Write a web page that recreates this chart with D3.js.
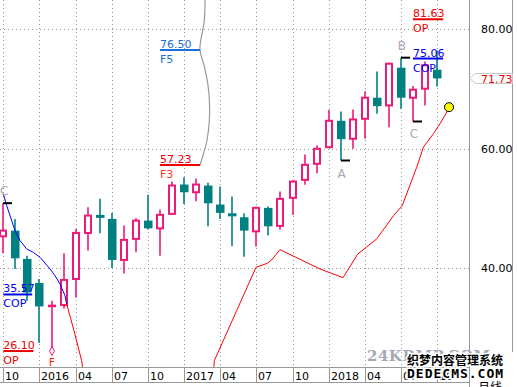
<!DOCTYPE html>
<html>
<head>
<meta charset="utf-8">
<script src="https://cdn.jsdelivr.net/npm/d3@7"></script>
<style>
  body { margin: 0; background: #fff; }
  svg { display: block; }
</style>
</head>
<body>
<svg id="chart" width="517" height="387"></svg>
<script>
// monthly bars, Oct 2015 .. Oct 2018 (index 0 = 2015-10)
const opens  = [45.30, 46.26, 41.52, 37.49, 33.60, 33.81, 38.16, 45.87, 48.89, 48.22, 41.35, 44.87, 47.93,
                46.64, 49.06, 53.97, 52.68, 53.80, 50.62, 49.16, 48.49, 46.14, 50.06, 47.05, 51.74, 54.75,
                57.44, 60.22, 64.64, 61.63, 64.98, 68.50, 67.21, 73.52, 68.50, 70.01, 73.19];
const highs  = [50.85, 48.22, 42.07, 38.16, 34.53, 42.45, 46.54, 50.16, 51.57, 49.22, 47.10, 48.32, 52.24,
                49.78, 54.47, 55.19, 54.92, 54.25, 53.63, 51.96, 49.16, 50.28, 50.28, 52.79, 54.64, 58.99,
                60.50, 66.49, 66.20, 66.54, 69.60, 72.90, 74.36, 75.20, 70.44, 74.58, 76.42];
const lows   = [42.45, 39.84, 34.53, 27.44, 26.10, 33.24, 35.08, 42.91, 45.81, 40.01, 39.10, 42.62, 46.43,
                42.07, 48.94, 50.73, 51.17, 46.98, 48.22, 43.63, 41.90, 43.58, 45.42, 46.43, 48.89, 53.92,
                55.86, 60.22, 57.99, 59.95, 61.63, 65.82, 63.57, 66.65, 64.52, 67.21, 70.39];
const closes = [46.26, 41.62, 35.90, 33.57, 33.70, 38.00, 45.87, 48.77, 48.39, 41.35, 44.70, 47.93, 46.64,
                48.89, 53.80, 52.68, 53.97, 50.83, 49.22, 48.65, 46.26, 50.06, 46.98, 51.57, 54.47, 57.27,
                59.95, 64.64, 61.56, 64.86, 68.50, 67.09, 74.19, 68.50, 69.84, 73.91, 71.73];

const xTickIdx    = [0, 3, 6, 9, 12, 15, 18, 21, 24, 27, 30, 33, 36];
const xTickLabels = ['10', '2016', '04', '07', '10', '2017', '04', '07', '10', '2018', '04', '07', '10'];
const yTicks = [40, 60, 80];
const lastPrice = 71.73;

// projection lines: [month index, price]
const copLine = [[0, 52.4], [0.28, 50.45], [0.97, 46.26], [1.39, 44.58], [1.94, 43.19], [2.49, 42.62],
                 [3.05, 41.78], [3.88, 39.84], [4.29, 38.72], [4.71, 37.33], [5.12, 35.37], [5.26, 33.98]];
const opLineLeft = [[5.26, 33.98], [5.87, 29.5], [6.5, 24.47], [6.65, 22.5]];
const opLineRight = [[17.45, 22.5], [17.51, 24.47], [20.97, 40.11], [21.9, 40.78], [22.27, 41.35],
                     [22.96, 43.07], [26.28, 39.84], [28.19, 38.38], [29.4, 42.3], [31.0, 44.9],
                     [32.4, 48.8], [33.1, 50.4], [33.89, 54.64], [34.31, 56.87], [34.86, 60.22],
                     [35.69, 62.46], [36.24, 64.14], [36.8, 66.08], [36.99, 66.92]];
const arcLine = [[16.74, 86], [16.68, 81.45], [16.32, 76.6], [16.66, 73.91], [16.99, 70.56], [17.1, 68.04],
                 [17.1, 64.69], [16.9, 61.34], [16.57, 58.83], [16.32, 57.23]];

// underlined level labels
const levelText  = ['76.50', '57.23', '81.63', '75.06', '35.57', '26.10'];
const levelValue = [76.50, 57.23, 81.63, 75.06, 35.57, 26.10];
const levelSub   = ['F5', 'F3', 'OP', 'COP', 'COP', 'OP'];
const levelFrom  = [13.0, 13.0, 34.0, 34.0, 0.0, 0.0];
const levelTo    = [16.32, 16.32, 36.5, 36.5, 2.4, 2.5];
const levelColor = ['#1c6fd8', '#ee0000', '#ee0000', '#0000ee', '#0000ee', '#ee0000'];

// swing markers
const markIdx   = [0, 28, 33, 34];
const markValue = [50.85, 57.99, 75.20, 64.52];
const markText  = ['C', 'A', 'B', 'C'];
const markAbove = [true, false, true, false];

const teal = '#008080', pink = '#ee1a78';
const plotW = 469, plotH = 367;

const svg = d3.select('#chart');
const x = d3.scaleLinear().domain([0, 36]).range([3.3, 437.1]);
const y = d3.scaleLinear().domain([40, 80]).range([268, 29]);

svg.append('defs').append('clipPath').attr('id', 'plot')
  .append('rect').attr('width', plotW).attr('height', plotH);

// grid
const grid = svg.append('g').attr('stroke', '#999').attr('stroke-dasharray', '1,3');
grid.selectAll('line.v').data(xTickIdx).enter().append('line')
  .attr('x1', d => Math.round(x(d)) + 0.5).attr('x2', d => Math.round(x(d)) + 0.5)
  .attr('y1', 0).attr('y2', plotH);
grid.selectAll('line.h').data(yTicks).enter().append('line')
  .attr('x1', 0).attr('x2', plotW)
  .attr('y1', d => Math.round(y(d)) + 0.5).attr('y2', d => Math.round(y(d)) + 0.5);

const plot = svg.append('g').attr('clip-path', 'url(#plot)');

// candles
const idx = d3.range(opens.length);
const bars = plot.append('g').selectAll('g').data(idx).enter().append('g');
bars.append('line')
  .attr('x1', i => Math.round(x(i))).attr('x2', i => Math.round(x(i)))
  .attr('y1', i => y(highs[i])).attr('y2', i => y(lows[i]))
  .attr('stroke', i => closes[i] >= opens[i] ? pink : teal)
  .attr('stroke-width', 1.6);
bars.filter(i => closes[i] < opens[i]).append('rect')
  .attr('x', i => Math.round(x(i)) - 4).attr('width', 8.5)
  .attr('y', i => y(opens[i])).attr('height', i => Math.max(1, y(closes[i]) - y(opens[i])))
  .attr('fill', teal);
bars.filter(i => closes[i] >= opens[i]).append('rect')
  .attr('x', i => Math.round(x(i)) - 3).attr('width', 6)
  .attr('y', i => y(closes[i])).attr('height', i => Math.max(0.5, y(opens[i]) - y(closes[i])))
  .attr('fill', '#fff').attr('stroke', pink).attr('stroke-width', 2);

// diamond + F at the 2016 low
plot.append('path')
  .attr('d', d3.symbol(d3.symbolDiamond, 22)())
  .attr('transform', `translate(${Math.round(x(4))},${y(lows[4])})`)
  .attr('fill', '#fff').attr('stroke', pink).attr('stroke-width', 1);
svg.append('text').attr('x', Math.round(x(4))).attr('y', y(lows[4]) + 15)
  .attr('text-anchor', 'middle').attr('font-family', 'DejaVu Sans').attr('font-size', 11)
  .attr('fill', '#ff2a1a').text('F');

// lines
const line = d3.line().x(d => x(d[0])).y(d => y(d[1]));
plot.append('path').attr('d', line(copLine)).attr('fill', 'none').attr('stroke', '#0000ff').attr('stroke-width', 1);
plot.append('path').attr('d', line(opLineLeft)).attr('fill', 'none').attr('stroke', '#ff0000').attr('stroke-width', 1);
plot.append('path').attr('d', line(opLineRight)).attr('fill', 'none').attr('stroke', '#ff0000').attr('stroke-width', 1);
plot.append('path').attr('d', line.curve(d3.curveCatmullRom)(arcLine))
  .attr('fill', 'none').attr('stroke', '#999').attr('stroke-width', 1.2);

const endPt = opLineRight[opLineRight.length - 1];
plot.append('circle').attr('cx', x(endPt[0])).attr('cy', y(endPt[1])).attr('r', 4.5)
  .attr('fill', '#ffff00').attr('stroke', '#000').attr('stroke-width', 1);

// markers
const marks = plot.append('g').selectAll('g').data(markIdx).enter().append('g');
marks.append('line')
  .attr('x1', (d, k) => Math.round(x(d))).attr('x2', (d, k) => Math.round(x(d)) + 9)
  .attr('y1', (d, k) => y(markValue[k])).attr('y2', (d, k) => y(markValue[k]))
  .attr('stroke', '#000').attr('stroke-width', 2);
marks.append('text')
  .attr('x', (d, k) => Math.max(3.5, x(d) + 1))
  .attr('y', (d, k) => y(markValue[k]) + (markAbove[k] ? -8 : 17))
  .attr('text-anchor', 'middle').attr('font-family', 'DejaVu Sans').attr('font-size', 12)
  .attr('fill', '#a8a8b0').text((d, k) => markText[k]);

// level labels
const lv = svg.append('g').attr('font-family', 'DejaVu Sans').attr('font-size', 11)
  .selectAll('g').data(levelText).enter().append('g');
lv.append('line')
  .attr('x1', (d, k) => x(levelFrom[k])).attr('x2', (d, k) => x(levelTo[k]))
  .attr('y1', (d, k) => y(levelValue[k])).attr('y2', (d, k) => y(levelValue[k]))
  .attr('stroke', (d, k) => levelColor[k]).attr('stroke-width', 2);
lv.append('text')
  .attr('x', (d, k) => x(levelFrom[k])).attr('y', (d, k) => y(levelValue[k]) - 2)
  .attr('fill', (d, k) => levelColor[k]).text(d => d);
lv.append('text')
  .attr('x', (d, k) => x(levelFrom[k])).attr('y', (d, k) => y(levelValue[k]) + 13)
  .attr('fill', (d, k) => k === 1 ? '#f04020' : levelColor[k]).text((d, k) => levelSub[k]);

// frame
const frame = svg.append('g').attr('stroke', '#999').attr('stroke-width', 1);
frame.append('line').attr('x1', plotW + 0.5).attr('x2', plotW + 0.5).attr('y1', 0).attr('y2', 387);
frame.append('line').attr('x1', 512.5).attr('x2', 512.5).attr('y1', 0).attr('y2', 352);
frame.append('line').attr('x1', 0).attr('x2', plotW).attr('y1', plotH + 0.5).attr('y2', plotH + 0.5);
frame.append('line').attr('x1', 0).attr('x2', plotW).attr('y1', 382.5).attr('y2', 382.5);

// y axis
const yAxis = svg.append('g').attr('transform', `translate(${plotW},0)`)
  .call(d3.axisRight(y).tickValues(yTicks).tickFormat(d3.format('.2f')).tickSize(0).tickPadding(12));
yAxis.select('.domain').remove();
yAxis.selectAll('text').attr('font-family', 'DejaVu Sans').attr('font-size', 11).attr('fill', '#000');

// last price tag
const ly = Math.round(y(lastPrice)) + 0.5;
svg.append('path')
  .attr('d', `M${plotW + 0.5},${ly}L${plotW + 6.5},${ly - 5}H512.5V${ly + 5}H${plotW + 6.5}Z`)
  .attr('fill', '#fff').attr('stroke', '#c8c8c8');
svg.append('text').attr('x', 481).attr('y', ly + 4)
  .attr('font-family', 'DejaVu Sans').attr('font-size', 11).attr('fill', '#ee0000')
  .text(d3.format('.2f')(lastPrice));

// x axis
const xAxis = svg.append('g');
xAxis.selectAll('line').data(xTickIdx).enter().append('line')
  .attr('x1', d => Math.round(x(d)) + 0.5).attr('x2', d => Math.round(x(d)) + 0.5)
  .attr('y1', plotH).attr('y2', 382).attr('stroke', '#999');
xAxis.selectAll('text').data(xTickIdx).enter().append('text')
  .attr('x', d => Math.round(x(d)) + 2).attr('y', 380)
  .attr('font-family', 'DejaVu Sans').attr('font-size', 11).attr('fill', '#000')
  .text((d, k) => xTickLabels[k]);

// watermark
const wm = svg.append('g');
wm.append('text').attr('x', 367).attr('y', 361)
  .attr('font-family', 'DejaVu Serif').attr('font-size', 15).attr('font-weight', 'bold')
  .attr('letter-spacing', 0.5).attr('fill', '#a4aab8').text('24KRMP.COM');
wm.append('text').attr('x', 478).attr('y', 392)
  .attr('font-family', 'Noto Sans CJK SC').attr('font-size', 12).attr('fill', '#000').text('月线');
wm.append('text').attr('x', 407).attr('y', 365)
  .attr('font-family', 'Noto Sans CJK SC').attr('font-size', 12).attr('font-weight', 'bold')
  .attr('fill', '#000').attr('stroke', '#fff').attr('stroke-width', 3).attr('paint-order', 'stroke')
  .text('织梦内容管理系统');
wm.append('text').attr('x', 407).attr('y', 378)
  .attr('font-family', 'DejaVu Sans Mono').attr('font-size', 13).attr('font-weight', 'bold')
  .attr('letter-spacing', 1).attr('fill', '#000').attr('stroke', '#fff').attr('stroke-width', 3)
  .attr('paint-order', 'stroke').text('DEDECMS.COM');
</script>
</body>
</html>
